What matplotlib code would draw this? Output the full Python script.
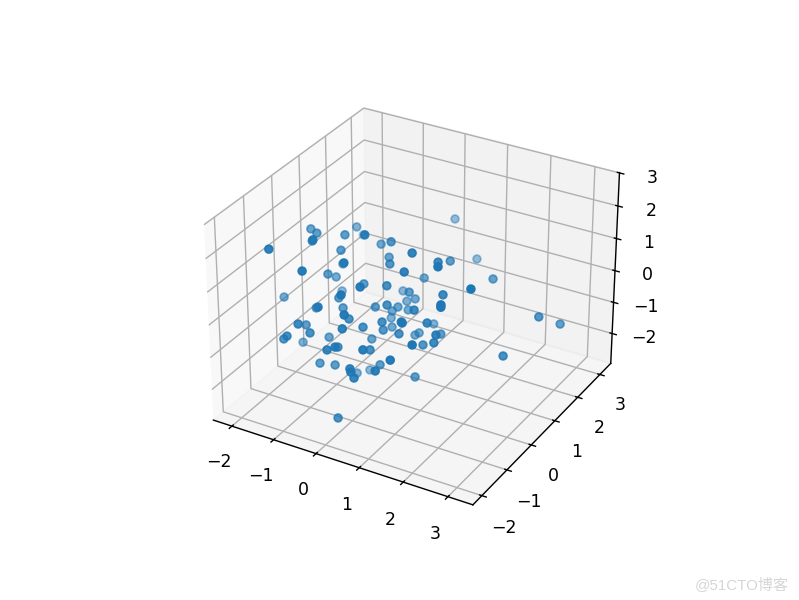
import matplotlib
matplotlib.use('Agg')
import matplotlib.pyplot as plt

x_values = [-1.03,-1.42,-1.11,-0.60,-0.78,-1.01,-0.62,0.39,-1.83,-0.30,0.39,-0.61,0.20,-0.87,0.08,0.48,-0.29,-0.72,-0.92,-0.05,0.76,0.70,-1.73,-1.13,0.48,
            -0.41,-0.02,-0.75,-0.29,0.64,0.22,0.26,0.80,0.23,0.48,0.06,0.33,1.29,1.61,2.10,1.32,0.93,1.25,0.62,1.99,2.75,-0.05,0.77,1.85,0.57,
            0.25,2.33,2.34,0.50,1.44,3.28,3.45,1.44,1.46,1.72,0.84,1.52,2.08,0.81,0.75,0.80,0.69,0.31,1.14,0.50,-0.44,-0.84,-0.37,-0.68,-0.96,
            -1.37,0.49,-0.56,0.19,0.23,0.42,0.17,1.05,0.73,1.65,-0.41,-0.14,0.63,0.75,0.77,-0.26,0.84,-0.23,1.32,0.46,1.93,2.05,1.44,1.29,3.01]
y_values = [-2.25,-0.19,-0.45,-1.37,-1.12,0.87,-0.19,-1.07,2.42,0.65,-0.10,-0.36,-1.53,0.11,0.33,-0.30,-2.24,-0.68,-0.07,-0.42,-1.85,-0.78,-0.75,0.47,-2.09,
            -0.78,-2.13,-1.08,-0.82,-2.24,-1.41,-0.50,-0.94,0.19,-0.00,0.43,2.53,-0.81,-0.37,-1.22,0.61,2.40,-1.04,0.79,1.16,-1.10,1.08,-0.05,-0.59,0.52,
            0.73,-1.50,-1.52,0.36,-0.99,0.69,1.29,-1.47,-1.47,-0.97,0.80,-0.09,-1.25,0.27,0.21,-1.13,-0.91,0.05,-1.06,-1.35,-2.20,-1.32,-1.90,-2.24,-1.94,
            -0.65,-2.08,-0.93,-0.53,-2.23,-2.24,-1.75,-2.24,-1.47,-2.23,-1.51,-1.38,-0.94,-2.24,-2.24,-0.38,-2.24,0.06,-2.24,-2.24,-1.07,-2.09,-0.65,-0.70,-0.25]
z_values = [2.74,1.87,2.02,2.60,2.34,1.40,1.98,2.91,-0.14,1.27,2.08,1.63,2.32,0.81,1.22,1.58,2.37,1.08,0.51,0.86,2.04,1.33,0.04,-0.37,1.86,
            0.54,1.34,0.31,0.31,1.44,0.58,0.33,0.90,-0.28,0.07,-0.73,1.07,2.54,2.10,2.71,1.38,0.12,2.12,0.48,0.72,2.23,-0.37,0.67,1.37,-0.00,
            -0.34,1.88,1.83,-0.26,1.03,0.38,-0.19,1.01,0.99,0.74,-0.87,-0.29,0.72,-0.79,-0.84,0.52,0.08,-0.65,0.25,0.40,0.72,-0.08,0.27,0.29,-0.12,
            -1.30,0.86,-0.62,-0.66,0.23,0.40,-0.05,0.57,-0.11,0.50,-0.95,-0.99,-0.99,-0.12,-0.21,-2.02,-0.36,-2.23,0.05,-1.74,0.30,1.01,-0.26,-1.27,-0.25]

fig = plt.figure(figsize=(799 / 125, 4.8), dpi=125)
ax = fig.add_subplot(projection='3d')
ax.scatter(x_values, y_values, z_values)
ax.set_xlim(-2.45, 3.55)
ax.set_ylim(-2.35, 3.5)
ax.set_zlim(-2.97, 3.01)
fig.text(0.9875, 0.0135, '@51CTO博客', ha='right', va='bottom', fontsize=8.7,
         color='#d6d6d6', family=['Liberation Sans', 'Noto Sans CJK SC'])
fig.savefig('out.png', dpi=125)
